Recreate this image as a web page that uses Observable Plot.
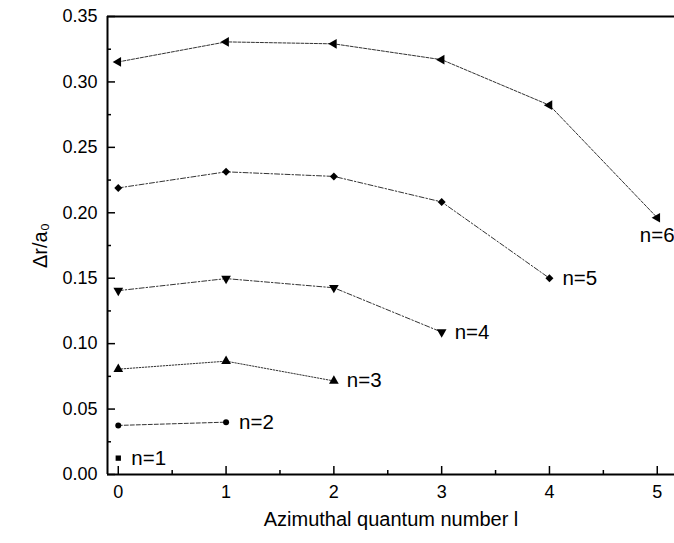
<!DOCTYPE html>
<html><head><meta charset="utf-8">
<script src="https://cdn.jsdelivr.net/npm/d3@7"></script>
<script src="https://cdn.jsdelivr.net/npm/@observablehq/plot@0.6"></script>
<style>body{margin:0;background:#fff;} svg{display:block;}</style>
</head><body><div id="chart"></div>
<script>
// Data
const seriesNames = ["n=1", "n=2", "n=3", "n=4", "n=5", "n=6"];
const lValues = [0, 1, 2, 3, 4, 5];
const n1 = [0.0125];
const n2 = [0.0375, 0.0400];
const n3 = [0.0805, 0.0866, 0.0715];
const n4 = [0.1405, 0.1497, 0.1427, 0.1088];
const n5 = [0.2190, 0.2313, 0.2278, 0.2083, 0.1500];
const n6 = [0.3153, 0.3306, 0.3291, 0.3170, 0.2822, 0.1962];
const xTicks = [0, 1, 2, 3, 4, 5];
const xMinorTicks = [0.5, 1.5, 2.5, 3.5, 4.5];
const yTicks = [0, 0.05, 0.10, 0.15, 0.20, 0.25, 0.30, 0.35];
const yMinorTicks = [0.025, 0.075, 0.125, 0.175, 0.225, 0.275, 0.325];
const xLabel = "Azimuthal quantum number l";
const yLabel = "\u0394r/a\u2080";

const allSeries = [n1, n2, n3, n4, n5, n6];
const data = allSeries.flatMap((vals, i) => vals.map((v, j) => ({series: seriesNames[i], l: lValues[j], v})));
const lastPoints = allSeries.map((vals, i) => ({series: seriesNames[i], l: lValues[vals.length - 1], v: vals[vals.length - 1]}));

// styles per series
const style = {
  "n=1": {symbol: "square", rotate: 0, r: 3, dash: null},
  "n=2": {symbol: "circle", rotate: 0, r: 3, dash: "4,2"},
  "n=3": {symbol: "triangle", rotate: 0, r: 3.6, dash: "1.5,1.5"},
  "n=4": {symbol: "triangle", rotate: 180, r: 3.6, dash: "5,2,1.5,2"},
  "n=5": {symbol: "diamond2", rotate: 0, r: 3.6, dash: "5,2,1.5,2"},
  "n=6": {symbol: "triangle", rotate: -90, r: 3.6, dash: "3,1.5"}
};

const W = 674, H = 543, mL = 107, mR = 0, mT = 16, mB = 69;
const xDomain = [-0.1, 5.16], yDomain = [0, 0.35];
// convert a tick length in pixels into data units for each axis
const pxX = (W - mL - mR) / (xDomain[1] - xDomain[0]);
const pxY = (H - mT - mB) / (yDomain[1] - yDomain[0]);
const xLen = px => px / pxX;
const yLen = px => px / pxY;

const marks = [];
for (const name of seriesNames) {
  const s = style[name];
  const d = data.filter(p => p.series === name);
  if (d.length > 1) {
    marks.push(Plot.line(d, {x: "l", y: "v", stroke: "#333", strokeWidth: 1, strokeDasharray: s.dash}));
  }
  marks.push(Plot.dot(d, {x: "l", y: "v", symbol: () => s.symbol, r: s.r, rotate: s.rotate, fill: "#000", stroke: "none"}));
}

const fontFamily = "'Liberation Sans', Arial, sans-serif";
const x0 = xDomain[0];

const chart = Plot.plot({
  width: W,
  height: H,
  marginLeft: mL,
  marginRight: mR,
  marginTop: mT,
  marginBottom: mB,
  style: {fontFamily, background: "#fff", color: "#000"},
  x: {domain: xDomain, axis: null},
  y: {domain: yDomain, axis: null},
  symbol: {type: "identity"},
  marks: [
    // inward tick marks
    Plot.ruleY(yMinorTicks, {y: d => d, x1: x0, x2: x0 + xLen(4), stroke: "#000", strokeWidth: 1.5}),
    Plot.ruleY(yTicks, {y: d => d, x1: x0, x2: x0 + xLen(8), stroke: "#000", strokeWidth: 1.5}),
    Plot.ruleX(xMinorTicks, {x: d => d, y1: 0, y2: yLen(4), stroke: "#000", strokeWidth: 1.5}),
    Plot.ruleX(xTicks, {x: d => d, y1: 0, y2: yLen(8), stroke: "#000", strokeWidth: 1.5}),
    Plot.axisY({ticks: yTicks, tickSize: 0, tickPadding: 10, tickFormat: d3.format(".2f"), label: null, fontSize: 18}),
    Plot.axisX({ticks: xTicks, tickSize: 0, tickPadding: 11, tickFormat: d3.format("d"), label: null, fontSize: 18}),
    Plot.ruleX([x0], {stroke: "#000", strokeWidth: 2}),
    Plot.ruleY([0], {stroke: "#000", strokeWidth: 2}),
    Plot.ruleY([0.35], {stroke: "#000", strokeWidth: 2}),
    ...marks,
    Plot.text(lastPoints.filter(p => p.series !== "n=6"), {x: "l", y: "v", text: "series", textAnchor: "start", dx: 13, fontSize: 20.5}),
    Plot.text(lastPoints.filter(p => p.series === "n=6"), {x: "l", y: "v", text: "series", textAnchor: "middle", dy: 18, fontSize: 20.5}),
    Plot.text([xLabel], {frameAnchor: "bottom", dy: 51, text: d => d, fontSize: 20}),
    Plot.text([yLabel], {x: () => x0, y: () => (yDomain[0] + yDomain[1]) / 2, textAnchor: "middle", dx: -67, rotate: -90, text: d => d, fontSize: 20})
  ]
});
document.getElementById("chart").appendChild(chart);
</script>
</body></html>
